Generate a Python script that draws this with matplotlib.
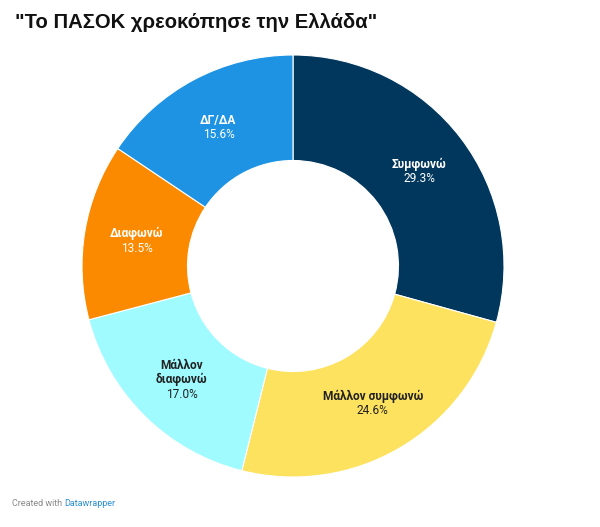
import numpy as np
import matplotlib.pyplot as plt

# данные
labels = ["Συμφωνώ", "Μάλλον συμφωνώ", "Μάλλον\nδιαφωνώ", "Διαφωνώ", "ΔΓ/ΔΑ"]
values = [29.3, 24.6, 17.0, 13.5, 15.6]
colors = ["#01375c", "#fde25f", "#9ffbff", "#fb8a00", "#1e93e3"]
text_colors = ["white", "#222222", "#222222", "white", "white"]

plt.rcParams['font.family'] = ['Roboto', 'DejaVu Sans']

fig = plt.figure(figsize=(6, 5.27), dpi=100)
W, H = 600, 527
cx, cy, r = 293, 266, 211
ax = fig.add_axes([(cx - r) / W, (H - cy - r) / H, 2 * r / W, 2 * r / H])

wedges, _ = ax.pie(values, colors=colors, startangle=90, counterclock=False,
                   radius=1.0, wedgeprops=dict(width=0.5, edgecolor="white", linewidth=0.8))
ax.set_xlim(-1, 1)
ax.set_ylim(-1, 1)
ax.set_aspect("equal")
ax.axis("off")

# подписи: каждая строка отдельно
px = 1.0 / r
lh = 14.5 * px
ang = 90.0
for lab, v, tc in zip(labels, values, text_colors):
    mid = ang - v * 3.6 / 2
    ang -= v * 3.6
    x = 0.75 * np.cos(np.radians(mid))
    y = 0.75 * np.sin(np.radians(mid)) - 1.0 * px
    lines = lab.split("\n") + [f"{v:.1f}%"]
    n = len(lines)
    for i, s in enumerate(lines):
        yy = y + (n - 1) / 2 * lh - i * lh
        bold = i < n - 1
        ax.text(x, yy, s, ha="center", va="center", fontsize=8.6,
                fontweight="bold" if bold else "normal", color=tc)

fig.text(15 / W, 1 - 22 / H, '"Το ΠΑΣΟΚ χρεοκόπησε την Ελλάδα"', ha="left", va="center",
         fontsize=14.6, fontweight="bold", color="#111111",
         family=['Liberation Sans', 'DejaVu Sans'])
t1 = fig.text(12 / W, 1 - 503 / H, "Created with ", ha="left", va="center",
              fontsize=6.5, color="#888888")
fig.canvas.draw()
bb = t1.get_window_extent()
fig.text(bb.x1 / W, 1 - 503 / H, "Datawrapper", ha="left", va="center",
         fontsize=6.5, color="#2b8fd6")

fig.savefig("out.png", dpi=100)
